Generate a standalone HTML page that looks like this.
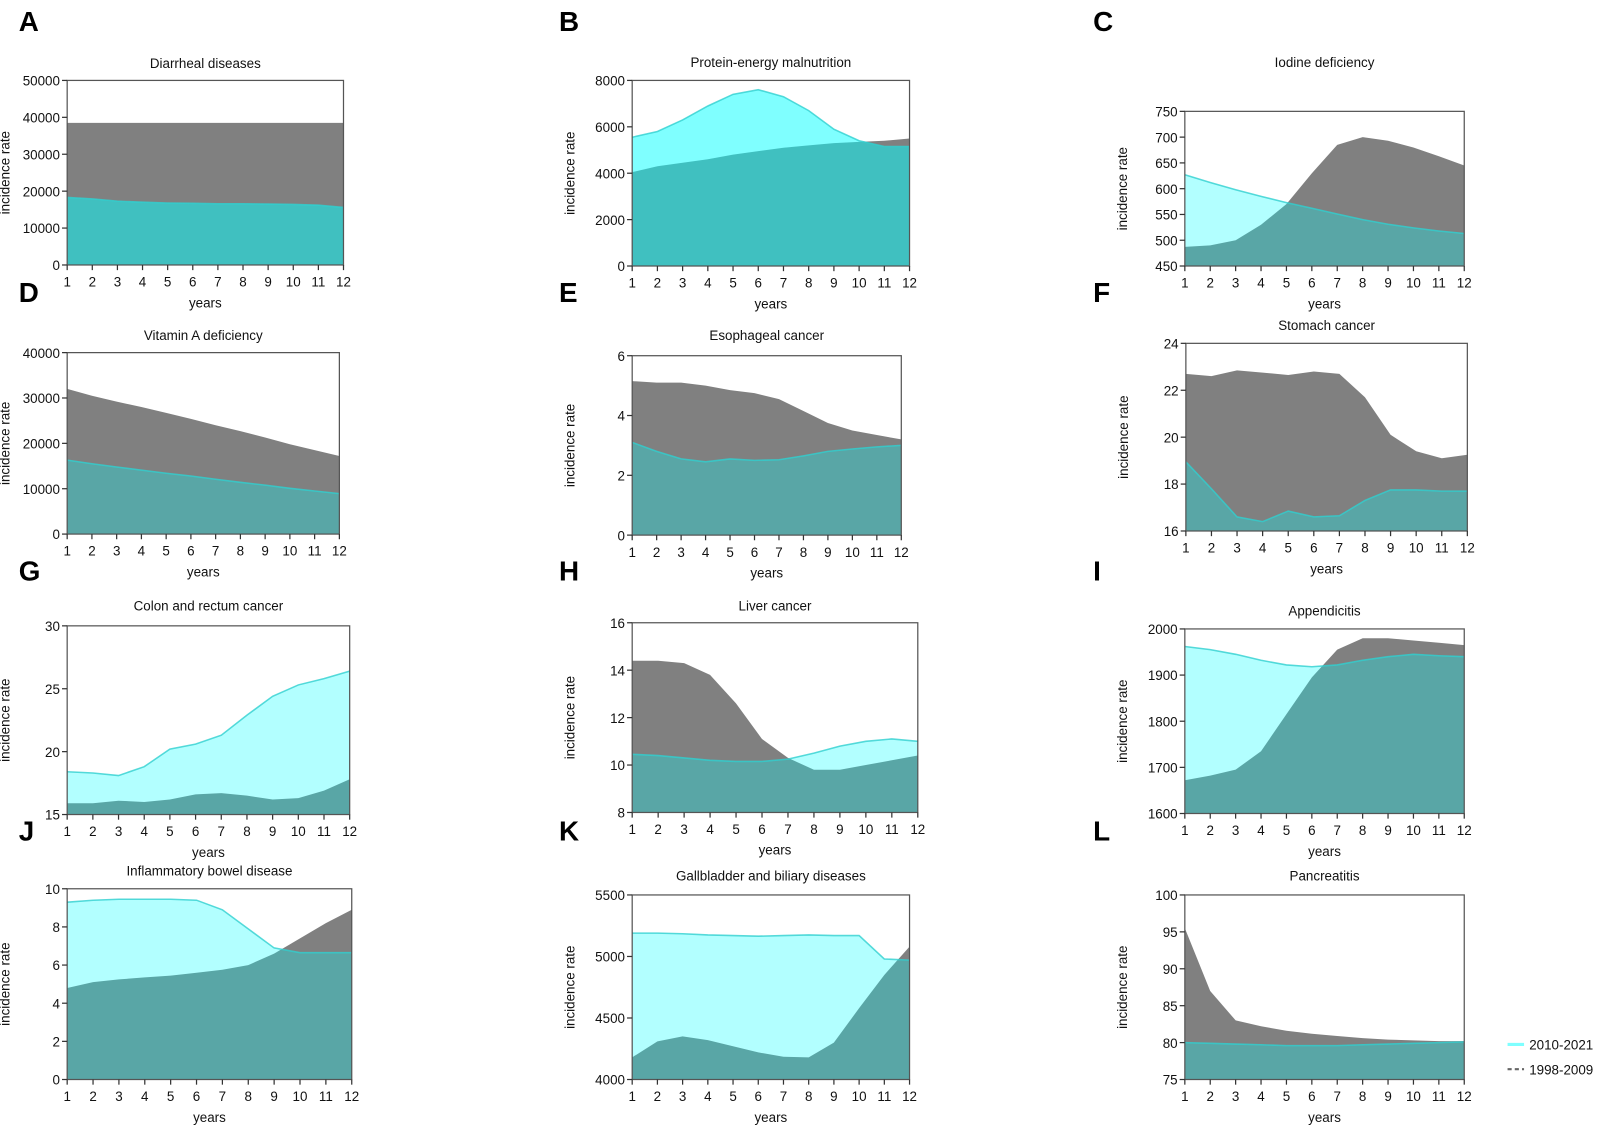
<!DOCTYPE html>
<html><head><meta charset="utf-8"><style>
body{margin:0;background:#fff;}
svg{display:block;font-family:"Liberation Sans",Arial,sans-serif;}
</style></head><body>
<svg id="chart" width="1617" height="1129" viewBox="0 0 1568 1095"></svg>
<script>
const titles=["Diarrheal diseases","Protein-energy malnutrition","Iodine deficiency","Vitamin A deficiency","Esophageal cancer","Stomach cancer","Colon and rectum cancer","Liver cancer","Appendicitis","Inflammatory bowel disease","Gallbladder and biliary diseases","Pancreatitis"];
const letters=["A","B","C","D","E","F","G","H","I","J","K","L"];
const years=[1,2,3,4,5,6,7,8,9,10,11,12];
const series1998=[
[38500,38500,38500,38500,38500,38500,38500,38500,38500,38500,38500,38500],
[4050,4300,4450,4600,4800,4950,5100,5200,5300,5350,5400,5500],
[487,490,500,530,570,630,685,700,693,680,663,645],
[32000,30500,29200,28000,26700,25400,24000,22700,21300,19800,18500,17200],
[5.15,5.1,5.1,5.0,4.85,4.75,4.55,4.15,3.75,3.5,3.35,3.2],
[22.7,22.6,22.85,22.75,22.65,22.8,22.7,21.7,20.1,19.4,19.1,19.25],
[15.9,15.9,16.1,16.0,16.2,16.6,16.7,16.5,16.2,16.3,16.9,17.8],
[14.4,14.4,14.3,13.8,12.6,11.1,10.3,9.8,9.8,10.0,10.2,10.4],
[1672,1682,1695,1735,1815,1895,1955,1980,1980,1975,1970,1965],
[4.8,5.1,5.25,5.35,5.45,5.6,5.75,6.0,6.6,7.4,8.2,8.9],
[4180,4310,4350,4320,4270,4220,4185,4180,4300,4580,4850,5080],
[95.5,87,83,82.2,81.6,81.2,80.9,80.6,80.4,80.3,80.2,80.2]];
const series2010=[
[18300,17900,17300,17000,16800,16700,16600,16600,16500,16400,16200,15600],
[5550,5800,6300,6900,7400,7600,7300,6700,5900,5400,5150,5150],
[627,612,598,585,573,562,551,540,531,524,518,513],
[16300,15500,14800,14100,13400,12800,12100,11400,10800,10100,9500,8900],
[3.1,2.8,2.55,2.45,2.55,2.5,2.52,2.65,2.8,2.88,2.95,3.0],
[18.95,17.8,16.6,16.4,16.85,16.6,16.65,17.3,17.75,17.75,17.7,17.7],
[18.4,18.3,18.1,18.8,20.2,20.6,21.3,22.9,24.4,25.3,25.8,26.4],
[10.45,10.4,10.3,10.2,10.15,10.15,10.25,10.5,10.8,11.0,11.1,11.0],
[1962,1955,1945,1932,1922,1918,1922,1932,1940,1945,1942,1940],
[9.3,9.4,9.45,9.45,9.45,9.4,8.9,7.9,6.9,6.65,6.65,6.65],
[5190,5190,5185,5175,5170,5165,5170,5175,5170,5170,4980,4970],
[80,79.9,79.8,79.7,79.6,79.6,79.6,79.7,79.8,79.9,80,80.1]];
const yTicks=[
[0,10000,20000,30000,40000,50000],[0,2000,4000,6000,8000],[450,500,550,600,650,700,750],
[0,10000,20000,30000,40000],[0,2,4,6],[16,18,20,22,24],[15,20,25,30],[8,10,12,14,16],
[1600,1700,1800,1900,2000],[0,2,4,6,8,10],[4000,4500,5000,5500],[75,80,85,90,95,100]];
// layout: [x0,x1,yTop,yBottom,titleY,letterX,letterY,opacity]
const layout=[
[65,333,78,257,62,18,20,0.5],[613,882,78,258,61,542,20,0.5],[1149,1420,108,258,61,1060,20,0.3],
[65,329,342,518,326,18,283,0.3],[613,874,345,519,326,542,283,0.3],[1150,1423,333,515,316,1060,283,0.3],
[65,339,607,790,588,18,553,0.3],[613,890,604,788,588,542,553,0.3],[1149,1420,610,789,593,1060,553,0.3],
[65,341,862,1047,845,18,805,0.3],[613,882,868,1047,850,542,805,0.3],[1149,1420,868,1047,850,1060,805,0.3]];
const NS="http://www.w3.org/2000/svg";
const svg=document.getElementById('chart');
function mk(tag,attrs,parent){const e=document.createElementNS(NS,tag);for(const k in attrs)e.setAttribute(k,attrs[k]);(parent||svg).appendChild(e);return e;}
for(let p=0;p<12;p++){
  const [x0,x1,yt,yb,ty,lx,ly,op]=layout[p];
  const ticks=yTicks[p];const ymin=ticks[0],ymax=ticks[ticks.length-1];
  const X=v=>x0+(v-1)/11*(x1-x0);
  const Y=v=>yb-(v-ymin)/(ymax-ymin)*(yb-yt);
  const g=mk('g',{});
  
  
  const L=mk('text',{x:lx,y:ly+10,'font-size':27,'font-weight':'bold',fill:'#000'},g);L.textContent=letters[p];
  
  
  const T=mk('text',{x:(x0+x1)/2,y:ty+4,'font-size':13,'text-anchor':'middle',fill:'#111'},g);T.textContent=titles[p];
  
  
  const area=(vals)=>{let d='M'+X(1)+','+yb;vals.forEach((v,i)=>d+=' L'+X(years[i]).toFixed(1)+','+Y(v).toFixed(1));return d+' L'+X(12)+','+yb+' Z';};
  const a1=mk('path',{d:area(series1998[p]),fill:'#808080'},g);
  
  
  const a2=mk('path',{d:area(series2010[p]),fill:'#00ffff','fill-opacity':op},g);
  
  
  let ld='';series2010[p].forEach((v,i)=>ld+=(i?' L':'M')+X(years[i]).toFixed(1)+','+Y(v).toFixed(1));
  const ln=mk('path',{d:ld,fill:'none',stroke:'#30d0d0','stroke-width':1.5,'stroke-opacity':0.8},g);
  
  
  mk('rect',{x:x0,y:yt,width:x1-x0,height:yb-yt,fill:'none',stroke:'#555','stroke-width':1.2},g);
  ticks.forEach(t=>{
    mk('line',{x1:x0-5,x2:x0,y1:Y(t),y2:Y(t),stroke:'#333','stroke-width':1.2},g);
    const tt=mk('text',{x:x0-7,y:Y(t)+5,'font-size':13,'text-anchor':'end',fill:'#111'},g);tt.textContent=t;
    
    
  });
  years.forEach(yv=>{
    mk('line',{x1:X(yv),x2:X(yv),y1:yb,y2:yb+5,stroke:'#333','stroke-width':1.2},g);
    const tt=mk('text',{x:X(yv),y:yb+21,'font-size':13,'text-anchor':'middle',fill:'#111'},g);tt.textContent=yv;
    
    
  });
  const xl=mk('text',{x:(x0+x1)/2,y:yb+41,'font-size':13,'text-anchor':'middle',fill:'#111'},g);xl.textContent='years';
  
  
  const cy=(yt+yb)/2,cx=x0-56;
  const yl=mk('text',{x:cx,y:cy,'font-size':13,'text-anchor':'middle',fill:'#111',transform:`rotate(-90 ${cx} ${cy})`},g);yl.textContent='incidence rate';
  
  
}
const lg=mk('g',{});


mk('line',{x1:1462,x2:1478,y1:1013,y2:1013,stroke:'#7fffff','stroke-width':3},lg);
const l1=mk('text',{x:1483,y:1018,'font-size':13,fill:'#111'},lg);l1.textContent='2010-2021';


mk('line',{x1:1462,x2:1478,y1:1037,y2:1037,stroke:'#666','stroke-width':2,'stroke-dasharray':'4 3'},lg);
const l2=mk('text',{x:1483,y:1042,'font-size':13,fill:'#111'},lg);l2.textContent='1998-2009';


</script>
</body></html>
